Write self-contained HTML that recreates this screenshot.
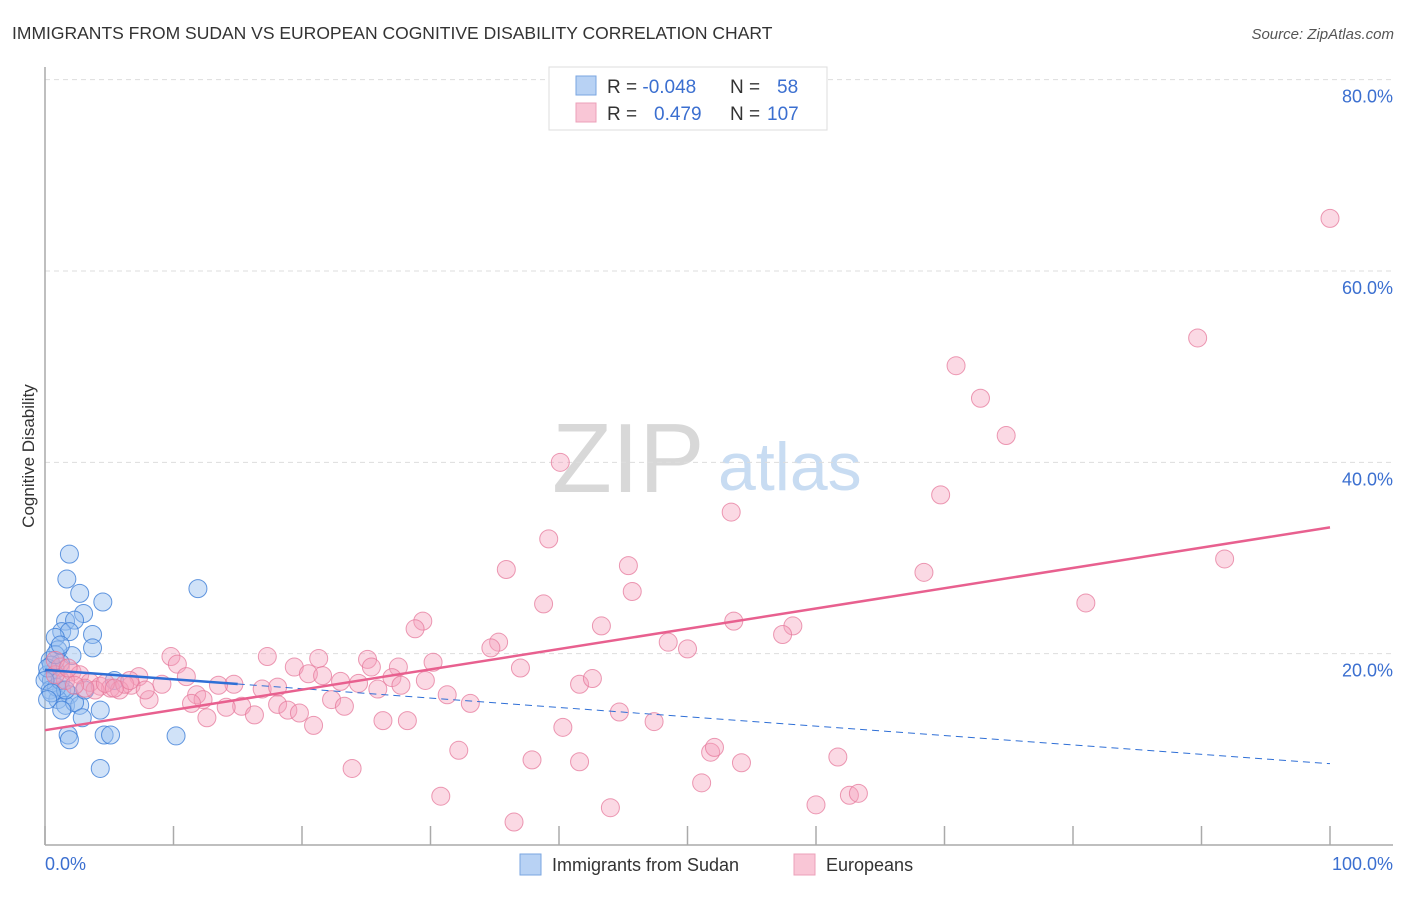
<!DOCTYPE html>
<html><head><meta charset="utf-8"><style>
body{margin:0;background:#fff;font-family:"Liberation Sans",sans-serif}
svg text{font-family:"Liberation Sans",sans-serif}
</style></head><body>
<svg id="chart" width="1406" height="892" xmlns="http://www.w3.org/2000/svg">
<text x="12" y="39" font-size="17.5" fill="#333">IMMIGRANTS FROM SUDAN VS EUROPEAN COGNITIVE DISABILITY CORRELATION CHART</text>
<text x="1394" y="39" font-size="15" fill="#555" text-anchor="end" font-style="italic">Source: ZipAtlas.com</text>
<text x="552" y="492" font-size="98" font-family="Liberation Serif" fill="#d8d8d8">ZIP</text>
<text x="718" y="490" font-size="68" fill="#c8dcf2">atlas</text>
<g id="grid"></g>
<g id="axes"></g>
<g id="blue"></g>
<g id="pink"></g>
<g id="trends"></g>
<text transform="translate(34,456) rotate(-90)" font-size="17" fill="#333" text-anchor="middle">Cognitive Disability</text>
<g>
<rect x="549" y="67" width="278" height="63" fill="#fff" stroke="#ddd"/>
<rect x="576" y="76" width="20" height="19" fill="#b8d2f4" stroke="#7aa6e0"/>
<rect x="576" y="103" width="20" height="19" fill="#f9c6d6" stroke="#eca0b9"/>
<text x="607" y="93" font-size="19" fill="#333">R = <tspan fill="#3b6fd0">-0.048</tspan><tspan x="730">N = </tspan><tspan x="777" fill="#3b6fd0">58</tspan></text>
<text x="607" y="120" font-size="19" fill="#333">R = <tspan x="654" fill="#3b6fd0">0.479</tspan><tspan x="730">N = </tspan><tspan x="767" fill="#3b6fd0">107</tspan></text>
</g>
<g>
<rect x="520" y="854" width="21" height="21" fill="#b8d2f4" stroke="#7aa6e0"/>
<text x="552" y="871" font-size="18" fill="#333">Immigrants from Sudan</text>
<rect x="794" y="854" width="21" height="21" fill="#f9c6d6" stroke="#eca0b9"/>
<text x="826" y="871" font-size="18" fill="#333">Europeans</text>
</g>
</svg>
<script>
const blueX=[1.9,1.7,2.7,4.5,3.0,1.6,2.3,1.3,1.9,3.7,0.8,3.7,11.9,2.1,1.0,0.4,0.8,1.2,0.2,0.5,1.3,0.4,1.9,1.0,1.6,2.7,2.3,1.3,4.3,2.9,1.8,1.9,4.6,5.1,10.2,4.3,0.5,0.9,0.2,0.8,1.2,1.6,0.0,0.5,3.1,5.4,1.2,0.2];
const blueY=[30.4,27.8,26.3,25.4,24.2,23.4,23.5,22.3,22.3,22.0,21.7,20.6,26.8,19.8,20.4,19.3,18.3,19.0,17.8,17.2,16.2,16.2,15.7,15.2,14.6,14.6,14.9,14.1,14.1,13.3,11.5,11.0,11.5,11.5,11.4,8.0,18.8,16.5,18.5,19.9,17.2,16.2,17.2,15.9,16.2,17.2,20.9,15.2];
const pinkX=[100,89.7,70.9,72.8,74.8,40.1,69.7,53.4,39.2,35.9,45.4,45.7,68.4,91.8,38.8,81.0,29.4,28.8,43.3,53.6,58.2,57.4,35.3,34.7,48.5,50.0,9.8,17.3,21.3,25.1,30.2,10.3,19.4,25.4,27.5,37.0,11.0,20.5,21.6,23.0,24.4,27.0,29.6,7.3,6.7,9.1,14.7,13.5,16.9,18.1,27.7,25.9,41.6,42.6,31.3,33.1,11.8,12.3,22.3,11.4,8.1,15.3,14.1,18.1,18.9,19.8,23.3,44.7,12.6,16.3,20.9,26.3,28.2,40.3,47.4,32.2,51.8,52.1,61.7,37.9,41.6,54.2,23.9,51.1,30.8,44.0,60.0,62.6,63.3,36.5,1.2,2.1,2.7,3.5,4.3,5.1,5.8,3.9,3.1,1.6,2.3,0.8,4.7,6.2,5.4,6.6,7.8,0.8,1.8];
const pinkY=[65.5,53.0,50.1,46.7,42.8,40.0,36.6,34.8,32.0,28.8,29.2,26.5,28.5,29.9,25.2,25.3,23.4,22.6,22.9,23.4,22.9,22.0,21.2,20.6,21.2,20.5,19.7,19.7,19.5,19.4,19.1,18.9,18.6,18.6,18.6,18.5,17.6,17.9,17.7,17.1,16.9,17.5,17.2,17.6,16.7,16.8,16.8,16.7,16.3,16.5,16.7,16.3,16.8,17.4,15.7,14.8,15.7,15.2,15.2,14.8,15.2,14.5,14.4,14.7,14.1,13.8,14.5,13.9,13.3,13.6,12.5,13.0,13.0,12.3,12.9,9.9,9.7,10.2,9.2,8.9,8.7,8.6,8.0,6.5,5.1,3.9,4.2,5.2,5.4,2.4,18.6,18.1,17.8,17.0,16.6,16.4,16.2,16.2,16.4,17.2,16.7,17.8,16.9,16.8,16.4,17.2,16.2,19.3,18.5];
const yTicks=[20,40,60,80];
const yTickLabels=["20.0%","40.0%","60.0%","80.0%"];
const xTicks=[0,10,20,30,40,50,60,70,80,90,100];
const blueTrend=[18.3,8.5];
const pinkTrend=[12.0,33.2];
const blueSolidEnd=15;
const NS="http://www.w3.org/2000/svg";
const X=v=>45+v*12.85;
const Y=v=>845-v*9.567;
function mk(tag,attrs,parent){const e=document.createElementNS(NS,tag);for(const k in attrs)e.setAttribute(k,attrs[k]);parent.appendChild(e);return e;}
const grid=document.getElementById('grid'),axes=document.getElementById('axes');
yTicks.forEach((t,i)=>{
 const l=mk('line',{x1:45,x2:1393,y1:Y(t),y2:Y(t),stroke:'#ddd','stroke-dasharray':'5,4'},grid);
 
 
 const tx=mk('text',{x:1393,y:Y(t)+23,'font-size':18,fill:'#3b6fd0','text-anchor':'end'},axes);
 tx.textContent=yTickLabels[i];
 
 
});
mk('line',{x1:45,x2:45,y1:67,y2:845,stroke:'#aaa','stroke-width':1.5},axes);
mk('line',{x1:45,x2:1393,y1:845,y2:845,stroke:'#aaa','stroke-width':1.5},axes);
xTicks.forEach(t=>{
 const l=mk('line',{x1:X(t),x2:X(t),y1:826,y2:845,stroke:'#aaa','stroke-width':1.5},axes);
 
 
});
const x0=mk('text',{x:45,y:870,'font-size':18,fill:'#3b6fd0'},axes);x0.textContent='0.0%';


const x1=mk('text',{x:1393,y:870,'font-size':18,fill:'#3b6fd0','text-anchor':'end'},axes);x1.textContent='100.0%';


const bg=document.getElementById('blue'),pg=document.getElementById('pink');
pinkX.forEach((v,i)=>{
 const c=mk('circle',{cx:X(v),cy:Y(pinkY[i]),r:9,fill:'rgba(244,160,188,0.4)',stroke:'rgba(230,120,155,0.75)','stroke-width':1},pg);
 
 
});
blueX.forEach((v,i)=>{
 const c=mk('circle',{cx:X(v),cy:Y(blueY[i]),r:9,fill:'rgba(150,190,240,0.45)',stroke:'rgba(60,125,215,0.8)','stroke-width':1},bg);
 
 
});
const tg=document.getElementById('trends');
const by=x=>blueTrend[0]+(blueTrend[1]-blueTrend[0])*x/100;
const bs=mk('line',{x1:X(0),y1:Y(by(0)),x2:X(blueSolidEnd),y2:Y(by(blueSolidEnd)),stroke:'#2f6fd6','stroke-width':2.5},tg);


const bd=mk('line',{x1:X(blueSolidEnd),y1:Y(by(blueSolidEnd)),x2:X(100),y2:Y(by(100)),stroke:'#2f6fd6','stroke-width':1,'stroke-dasharray':'7,5'},tg);


const pt=mk('line',{x1:X(0),y1:Y(pinkTrend[0]),x2:X(100),y2:Y(pinkTrend[1]),stroke:'#e8608f','stroke-width':2.5},tg);


</script>
</body></html>
